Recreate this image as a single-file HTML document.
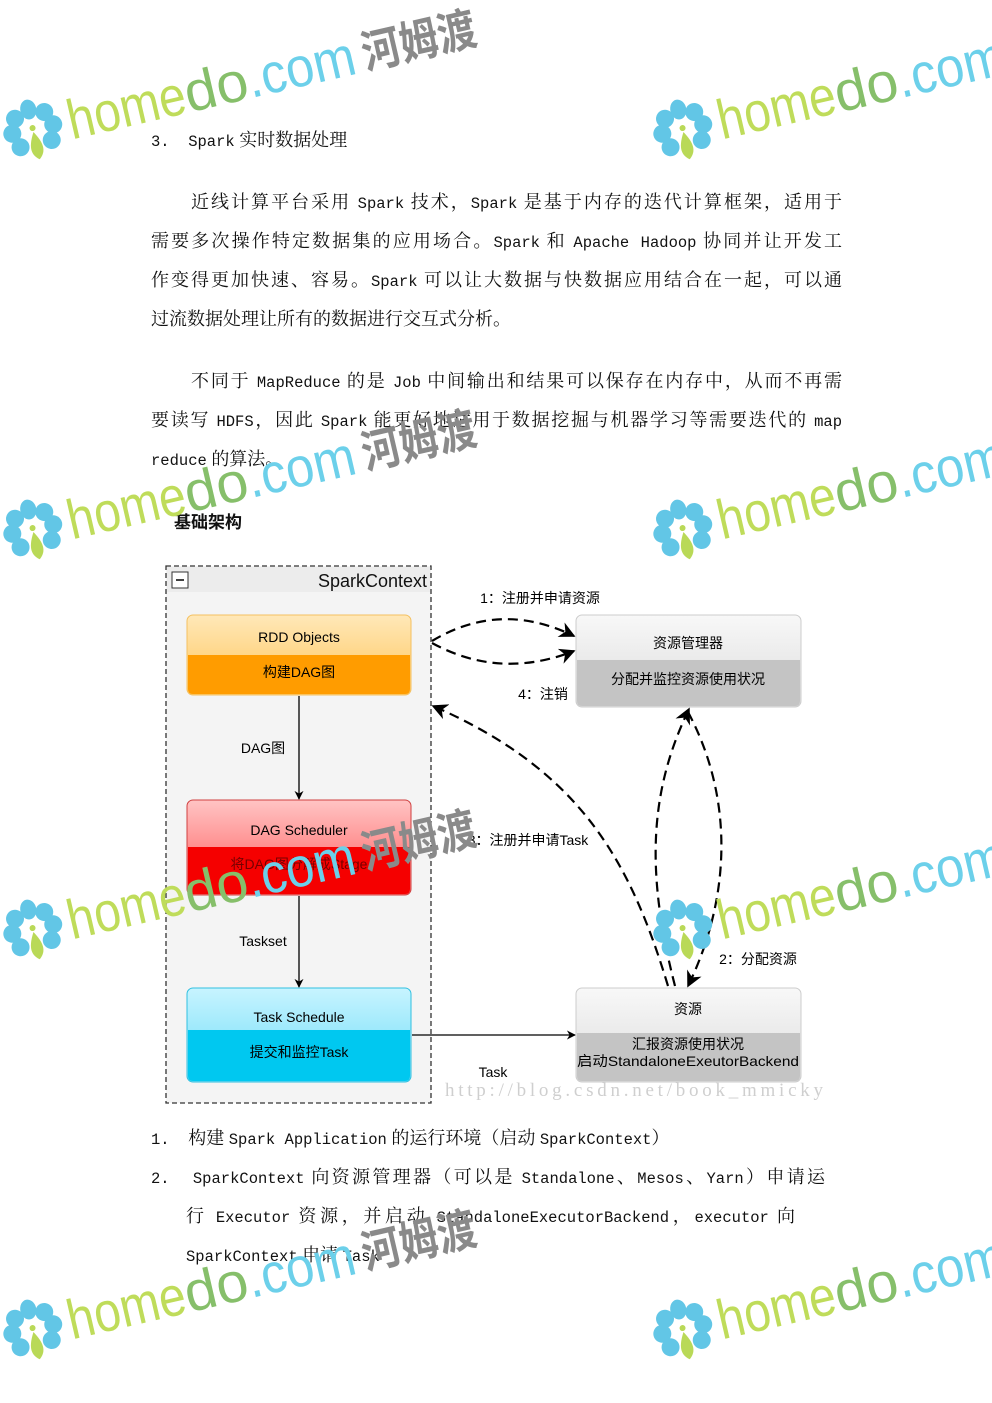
<!DOCTYPE html>
<html><head><meta charset="utf-8"><style>
html,body{margin:0;padding:0;background:#fff}
body{width:992px;height:1403px;position:relative;overflow:hidden;font-family:"Liberation Serif","Noto Serif CJK SC",serif;color:#111}
.l{position:absolute;font-size:18px;white-space:nowrap;line-height:24px}
.j{text-align:justify;text-align-last:justify;white-space:normal}
.m{font-family:"Liberation Mono",monospace;font-size:15.5px}
svg{position:absolute;left:0;top:0}
</style></head><body>
<div class="l" style="left:151px;top:128px;font-size:18px"><span class="m">3.&nbsp;&nbsp;Spark</span> 实时数据处理</div>

<div class="l j" style="left:191px;top:190px;width:651px">近线计算平台采用 <span class="m">Spark</span> 技术，<span class="m">Spark</span> 是基于内存的迭代计算框架，适用于</div>
<div class="l j" style="left:151px;top:229px;width:691px">需要多次操作特定数据集的应用场合。<span class="m">Spark</span> 和 <span class="m">Apache Hadoop</span> 协同并让开发工</div>
<div class="l j" style="left:151px;top:268px;width:691px">作变得更加快速、容易。<span class="m">Spark</span> 可以让大数据与快数据应用结合在一起，可以通</div>
<div class="l" style="left:151px;top:307px">过流数据处理让所有的数据进行交互式分析。</div>

<div class="l j" style="left:191px;top:369px;width:651px">不同于 <span class="m">MapReduce</span> 的是 <span class="m">Job</span> 中间输出和结果可以保存在内存中，从而不再需</div>
<div class="l j" style="left:151px;top:408px;width:691px">要读写 <span class="m">HDFS</span>，因此 <span class="m">Spark</span> 能更好地适用于数据挖掘与机器学习等需要迭代的 <span class="m">map</span></div>
<div class="l" style="left:151px;top:447px"><span class="m">reduce</span> 的算法。</div>

<div class="l" style="left:174px;top:509px;font-family:'Noto Sans CJK SC',sans-serif;font-weight:bold;font-size:17px">基础架构</div>

<div class="l" style="left:151px;top:1126px"><span class="m">1.&nbsp;&nbsp;</span>构建 <span class="m">Spark Application</span> 的运行环境（启动 <span class="m">SparkContext</span>）</div>
<div class="l j" style="left:151px;top:1165px;width:674px"><span class="m">2.&nbsp;&nbsp;SparkContext</span> 向资源管理器（可以是 <span class="m">Standalone</span>、<span class="m">Mesos</span>、<span class="m">Yarn</span>）申请运</div>
<div class="l j" style="left:186px;top:1204px;width:609px">行 <span class="m">Executor</span> 资源，并启动 <span class="m">StandaloneExecutorBackend</span>，<span class="m">executor</span> 向</div>
<div class="l" style="left:186px;top:1243px"><span class="m">SparkContext</span> 申请 <span class="m">Task</span></div>

<svg width="992" height="1403" viewBox="0 0 992 1403" font-family="'Liberation Sans','Noto Sans CJK SC',sans-serif">
<defs>
<linearGradient id="go" x1="0" y1="0" x2="0" y2="1"><stop offset="0" stop-color="#ffe8b8"/><stop offset="1" stop-color="#ffc55a"/></linearGradient>
<linearGradient id="gr" x1="0" y1="0" x2="0" y2="1"><stop offset="0" stop-color="#ffc4c4"/><stop offset="1" stop-color="#ff5a5a"/></linearGradient>
<linearGradient id="gb" x1="0" y1="0" x2="0" y2="1"><stop offset="0" stop-color="#c8f4ff"/><stop offset="1" stop-color="#6adcf8"/></linearGradient>
<linearGradient id="gg" x1="0" y1="0" x2="0" y2="1"><stop offset="0" stop-color="#f8f8f8"/><stop offset="1" stop-color="#dcdcdc"/></linearGradient>
<marker id="a" viewBox="0 0 10 10" refX="9" refY="5" markerWidth="9" markerHeight="9" orient="auto" markerUnits="userSpaceOnUse"><path d="M0,0 L10,5 L0,10 L3,5 z" fill="#000"/></marker>
<marker id="b" viewBox="0 0 10 10" refX="9" refY="5" markerWidth="16" markerHeight="16" orient="auto" markerUnits="userSpaceOnUse"><path d="M0,0 L10,5 L0,10 L3,5 z" fill="#000"/></marker>
<g id="wm">
 <g fill="#62c6e6">
  <ellipse cx="0" cy="-21" rx="8" ry="10"/><circle cx="15" cy="-15" r="9"/><circle cx="21" cy="-1" r="9"/><circle cx="16" cy="14" r="9"/>
  <circle cx="-15" cy="-15" r="9"/><circle cx="-21" cy="-1" r="9"/><circle cx="-16" cy="14" r="9"/>
 </g>
 <path d="M0,2 C7,14 9,23 0,30 C-9,23 -7,14 0,2z" fill="#b9d957"/>
 <circle cx="0" cy="-2" r="3" fill="#b9d957"/>
 <text x="36" y="18" font-size="56" fill="#bfdc5a" textLength="120" lengthAdjust="spacingAndGlyphs">home</text>
 <text x="156" y="18" font-size="56" fill="#86bf6a" textLength="64" lengthAdjust="spacingAndGlyphs">do</text>
 <text x="220" y="18" font-size="56" fill="#6cd0ea" textLength="110" lengthAdjust="spacingAndGlyphs">.com</text>
 <text x="338" y="16" font-size="46" font-weight="bold" fill="#8a8a8a" font-family="'Noto Sans CJK SC',sans-serif" textLength="116" lengthAdjust="spacingAndGlyphs">河姆渡</text>
</g>
</defs>

<rect x="166" y="566" width="265" height="537" fill="#f4f4f4" stroke="#333" stroke-dasharray="5,3" stroke-width="1.3"/>
<rect x="167" y="567" width="263" height="25" fill="#ececec"/>
<rect x="172" y="572" width="16" height="16" fill="#fff" stroke="#333"/>
<line x1="176" y1="580" x2="184" y2="580" stroke="#000" stroke-width="1.5"/>
<text x="427" y="587" font-size="18" text-anchor="end" fill="#111">SparkContext</text>

<rect x="187" y="615" width="224" height="80" rx="6" fill="url(#go)" stroke="#f4c060"/>
<path d="M188,655 H410 V689 Q410,694 405,694 H193 Q188,694 188,689z" fill="#ff9c00"/>
<text x="299" y="642" font-size="14" text-anchor="middle">RDD Objects</text>
<text x="299" y="677" font-size="14" text-anchor="middle">构建DAG图</text>

<rect x="187" y="800" width="224" height="95" rx="6" fill="url(#gr)" stroke="#d04040"/>
<path d="M188,847 H410 V889 Q410,894 405,894 H193 Q188,894 188,889z" fill="#f50000"/>
<text x="299" y="835" font-size="14" text-anchor="middle">DAG Scheduler</text>
<text x="299" y="869" font-size="14" text-anchor="middle" fill="#700">将DAG图分解成Stage</text>

<rect x="187" y="988" width="224" height="94" rx="6" fill="url(#gb)" stroke="#30c0e0"/>
<path d="M188,1030 H410 V1076 Q410,1081 405,1081 H193 Q188,1081 188,1076z" fill="#00c8f0"/>
<text x="299" y="1022" font-size="14" text-anchor="middle">Task Schedule</text>
<text x="299" y="1057" font-size="14" text-anchor="middle">提交和监控Task</text>

<rect x="576" y="615" width="225" height="92" rx="6" fill="url(#gg)" stroke="#ccc"/>
<path d="M577,660 H800 V701 Q800,706 795,706 H582 Q577,706 577,701z" fill="#c4c4c4"/>
<text x="688" y="648" font-size="14" text-anchor="middle">资源管理器</text>
<text x="688" y="684" font-size="14" text-anchor="middle">分配并监控资源使用状况</text>

<rect x="576" y="988" width="225" height="94" rx="6" fill="url(#gg)" stroke="#ccc"/>
<path d="M577,1033 H800 V1076 Q800,1081 795,1081 H582 Q577,1081 577,1076z" fill="#c4c4c4"/>
<text x="688" y="1014" font-size="14" text-anchor="middle">资源</text>
<text x="688" y="1049" font-size="14" text-anchor="middle">汇报资源使用状况</text>
<text x="688" y="1066" font-size="14" text-anchor="middle" textLength="222" lengthAdjust="spacingAndGlyphs">启动StandaloneExeutorBackend</text>

<line x1="299" y1="696" x2="299" y2="799" stroke="#000" stroke-width="1.3" marker-end="url(#a)"/>
<line x1="299" y1="896" x2="299" y2="987" stroke="#000" stroke-width="1.3" marker-end="url(#a)"/>
<line x1="412" y1="1035" x2="575" y2="1035" stroke="#000" stroke-width="1.3" marker-end="url(#a)"/>
<text x="263" y="753" font-size="14" text-anchor="middle">DAG图</text>
<text x="263" y="946" font-size="14" text-anchor="middle">Taskset</text>
<text x="493" y="1077" font-size="14" text-anchor="middle">Task</text>

<g fill="none" stroke="#000" stroke-width="2.2" stroke-dasharray="10,6">
<path d="M432,641 Q500,600 574,636" marker-end="url(#b)"/>
<path d="M432,643 Q500,680 574,651" marker-end="url(#b)"/>
<path d="M668,986 C630,860 580,770 433,706" marker-end="url(#b)"/>
<path d="M675,986 C645,870 650,790 689,709" marker-end="url(#b)"/>
<path d="M688,712 C735,800 730,900 688,986" marker-end="url(#b)"/>
</g>
<text x="540" y="603" font-size="14" text-anchor="middle">1：注册并申请资源</text>
<text x="543" y="699" font-size="14" text-anchor="middle">4：注销</text>
<text x="528" y="845" font-size="14" text-anchor="middle">3：注册并申请Task</text>
<text x="758" y="964" font-size="14" text-anchor="middle">2：分配资源</text>
<text x="445" y="1096" font-size="19" fill="#cfcfcf" font-family="'Liberation Serif',serif" textLength="378">http://blog.csdn.net/book_mmicky</text>

<use href="#wm" transform="translate(33,130) rotate(-13)"/>
<use href="#wm" transform="translate(683,130) rotate(-13)"/>
<use href="#wm" transform="translate(33,530) rotate(-13)"/>
<use href="#wm" transform="translate(683,530) rotate(-13)"/>
<use href="#wm" transform="translate(33,930) rotate(-13)"/>
<use href="#wm" transform="translate(683,930) rotate(-13)"/>
<use href="#wm" transform="translate(33,1330) rotate(-13)"/>
<use href="#wm" transform="translate(683,1330) rotate(-13)"/>
</svg>
</body></html>
